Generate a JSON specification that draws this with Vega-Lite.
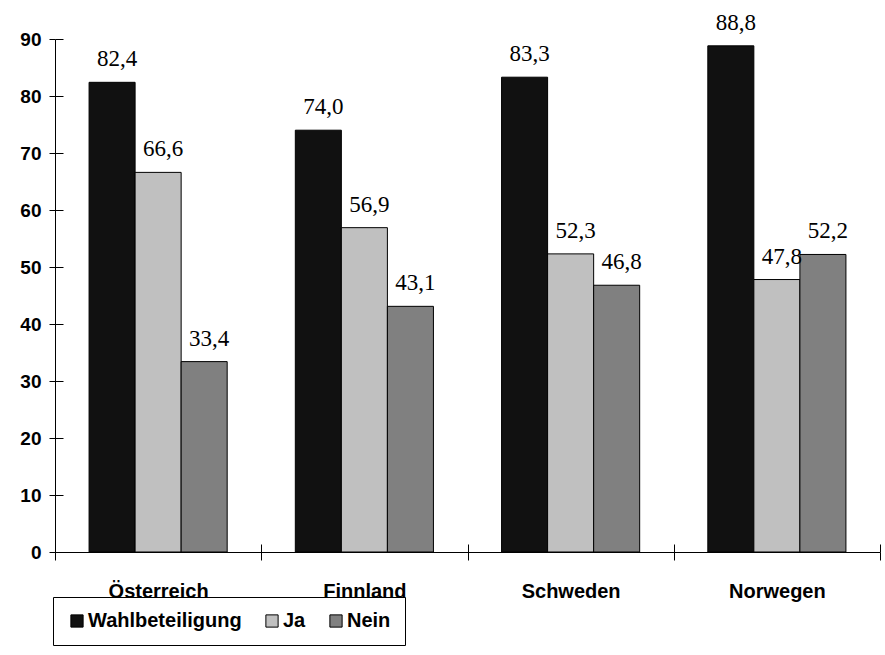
{
  "$schema": "https://vega.github.io/schema/vega-lite/v6.json",
  "width": 825,
  "height": 513,
  "autosize": "none",
  "padding": {"left": 55, "top": 39, "right": 5, "bottom": 103},
  "background": "white",
  "config": {"view": {"stroke": null}},
  "data": {
    "values": [
      {"land": "Österreich", "serie": "Wahlbeteiligung", "wert": 82.4, "label": "82,4"},
      {"land": "Österreich", "serie": "Ja", "wert": 66.6, "label": "66,6"},
      {"land": "Österreich", "serie": "Nein", "wert": 33.4, "label": "33,4"},
      {"land": "Finnland", "serie": "Wahlbeteiligung", "wert": 74.0, "label": "74,0"},
      {"land": "Finnland", "serie": "Ja", "wert": 56.9, "label": "56,9"},
      {"land": "Finnland", "serie": "Nein", "wert": 43.1, "label": "43,1"},
      {"land": "Schweden", "serie": "Wahlbeteiligung", "wert": 83.3, "label": "83,3"},
      {"land": "Schweden", "serie": "Ja", "wert": 52.3, "label": "52,3"},
      {"land": "Schweden", "serie": "Nein", "wert": 46.8, "label": "46,8"},
      {"land": "Norwegen", "serie": "Wahlbeteiligung", "wert": 88.8, "label": "88,8"},
      {"land": "Norwegen", "serie": "Ja", "wert": 47.8, "label": "47,8"},
      {"land": "Norwegen", "serie": "Nein", "wert": 52.2, "label": "52,2"}
    ]
  },
  "encoding": {
    "x": {
      "field": "land",
      "type": "nominal",
      "sort": ["Österreich", "Finnland", "Schweden", "Norwegen"],
      "scale": {"paddingInner": 0, "paddingOuter": 0},
      "axis": {
        "title": null,
        "labelAngle": 0,
        "labelFont": "Liberation Sans, Arial, sans-serif",
        "labelFontWeight": "bold",
        "labelFontSize": 20,
        "labelColor": "black",
        "labelPadding": 21,
        "tickBand": "extent",
        "tickSize": 8,
        "tickColor": "black",
        "domainColor": "black",
        "grid": true,
        "gridColor": "black",
        "gridOpacity": 1,
        "gridDash": [0, 505, 8, 2000]
      }
    },
    "xOffset": {
      "field": "serie",
      "type": "nominal",
      "sort": ["Wahlbeteiligung", "Ja", "Nein"],
      "scale": {"paddingInner": 0, "paddingOuter": 0.74}
    },
    "y": {
      "field": "wert",
      "type": "quantitative",
      "scale": {"domain": [0, 90], "nice": false},
      "axis": {
        "title": null,
        "values": [0, 10, 20, 30, 40, 50, 60, 70, 80, 90],
        "labelFont": "Liberation Sans, Arial, sans-serif",
        "labelFontWeight": "bold",
        "labelFontSize": 19,
        "labelColor": "black",
        "labelPadding": 8,
        "tickSize": 6,
        "tickColor": "black",
        "domainColor": "black",
        "grid": true,
        "gridColor": "black",
        "gridOpacity": 1,
        "gridDash": [8, 2000]
      }
    }
  },
  "layer": [
    {
      "mark": {"type": "bar", "stroke": "black", "strokeWidth": 1},
      "encoding": {
        "color": {
          "field": "serie",
          "type": "nominal",
          "sort": ["Wahlbeteiligung", "Ja", "Nein"],
          "scale": {"domain": ["Wahlbeteiligung", "Ja", "Nein"], "range": ["#111111", "#c0c0c0", "#808080"]},
          "legend": {
            "title": null,
            "orient": "none",
            "direction": "horizontal",
            "legendX": -2,
            "legendY": 558,
            "padding": 14,
            "strokeColor": "black",
            "fillColor": "white",
            "symbolType": "square",
            "symbolSize": 150,
            "symbolStrokeColor": "black",
            "symbolStrokeWidth": 1,
            "symbolOpacity": 1,
            "labelFont": "Liberation Sans, Arial, sans-serif",
            "labelFontWeight": "bold",
            "labelFontSize": 20,
            "labelColor": "black",
            "labelOffset": 1,
            "columnPadding": 20,
            "labelLimit": 300
          }
        }
      }
    },
    {
      "mark": {"type": "text", "font": "Liberation Serif, Times New Roman, serif", "fontSize": 23, "baseline": "alphabetic", "dy": -16, "dx": 5, "color": "black"},
      "encoding": {"text": {"field": "label"}}
    }
  ]
}
